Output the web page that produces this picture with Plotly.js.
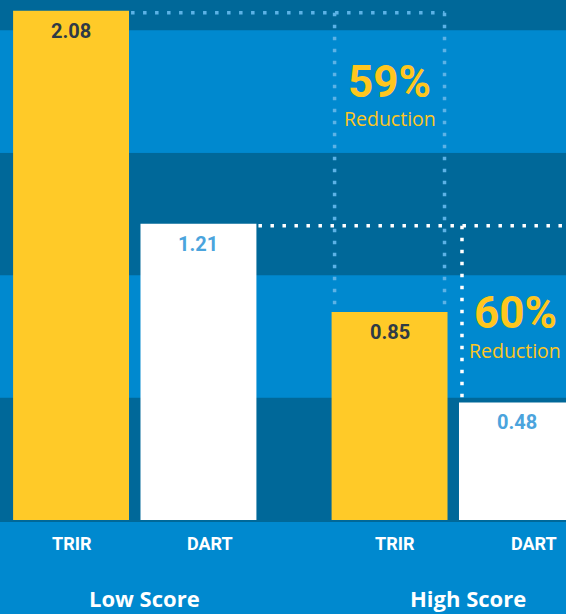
<!DOCTYPE html>
<html>
<head>
<meta charset="utf-8">
<script src="https://cdn.plot.ly/plotly-3.0.1.min.js"></script>
<style>
html,body{margin:0;padding:0;background:#0089cf;}
#chart{width:566px;height:614px;}
</style>
</head>
<body>
<div id="chart"></div>
<script>
// ---- data ----
const groups = ["Low Score", "High Score"];
const metrics = ["TRIR", "DART"];
const trirValues = [2.08, 0.85];
const dartValues = [1.21, 0.48];

// ---- style ----
const DARK = "#006899";
const LIGHT = "#0089cf";
const YELLOW = "#ffca28";
const WHITE = "#ffffff";
const DOT_BLUE = "#5cb2e6";
const bargap = 0.2, bargroupgap = 0.09;
const xRange = [-0.4231, 1.354];
const yRange = [0, 2.124];
const plotH = 520, pxPerUnitX = 566 / (xRange[1] - xRange[0]);
const pxPerUnitY = plotH / (yRange[1] - yRange[0]);

const slot = (1 - bargap) / 2;            // width of one bar slot in category units
const offs = [-slot / 2, slot / 2];        // TRIR, DART offsets within group
const halfW = slot * (1 - bargroupgap) / 2;
const px = p => p / pxPerUnitX;            // pixels -> x units
const py = p => p / pxPerUnitY;            // pixels -> y units

const traces = [
  {type: "bar", name: metrics[0], x: groups, y: trirValues,
   marker: {color: YELLOW, line: {width: 0}}, hoverinfo: "skip"},
  {type: "bar", name: metrics[1], x: groups, y: dartValues,
   marker: {color: WHITE, line: {width: 0}}, hoverinfo: "skip"}
];

// background bands every 0.5
const shapes = [];
for (let k = 0; k * 0.5 < yRange[1]; k++) {
  shapes.push({type: "rect", layer: "below", xref: "paper", yref: "y",
    x0: 0, x1: 1, y0: k * 0.5, y1: Math.min((k + 1) * 0.5, yRange[1] + 0.1),
    fillcolor: k % 2 === 0 ? DARK : LIGHT, line: {width: 0}});
}

const dotLine = (color) => ({color: color, width: 3.5, dash: "3.5px,8.5px"});
const inset = px(3);
const drop = py(2);
// TRIR bracket (light blue)
const t2Left = 1 + offs[0] - halfW + inset;
const t2Right = 1 + offs[0] + halfW - inset;
shapes.push({type: "line", layer: "below", xref: "x", yref: "y",
  x0: 0 + offs[0], x1: t2Right, y0: trirValues[0] - drop, y1: trirValues[0] - drop, line: dotLine(DOT_BLUE)});
shapes.push({type: "line", layer: "below", xref: "x", yref: "y",
  x0: t2Left, x1: t2Left, y0: trirValues[0] - drop, y1: trirValues[1], line: dotLine(DOT_BLUE)});
shapes.push({type: "line", layer: "below", xref: "x", yref: "y",
  x0: t2Right, x1: t2Right, y0: trirValues[0] - drop, y1: trirValues[1], line: dotLine(DOT_BLUE)});
// DART bracket (white)
const d2Left = 1 + offs[1] - halfW + inset;
shapes.push({type: "line", layer: "below", xref: "x", yref: "y",
  x0: 0 + offs[1], x1: xRange[1], y0: dartValues[0] - drop, y1: dartValues[0] - drop, line: dotLine(WHITE)});
shapes.push({type: "line", layer: "below", xref: "x", yref: "y",
  x0: d2Left, x1: d2Left, y0: dartValues[0] - drop, y1: dartValues[1], line: dotLine(WHITE)});

const annotations = [];
const series = [trirValues, dartValues];
const labelColors = ["#2f3a46", "#4ba4dd"];
// value labels
series.forEach((vals, i) => {
  vals.forEach((v, j) => {
    annotations.push({xref: "x", yref: "y", x: j + offs[i], y: v, yshift: -20,
      text: v.toFixed(2), showarrow: false, yanchor: "middle", xanchor: "center",
      font: {family: "Roboto, sans-serif", size: 20, color: labelColors[i], weight: 700}});
  });
});
// metric tick labels
const tickShift = [[0.5, 5.5], [11.5, 17.5]];
metrics.forEach((m, i) => {
  groups.forEach((g, j) => {
    annotations.push({xref: "x", yref: "paper", x: j + offs[i], y: 0, yshift: -23,
      xshift: tickShift[i][j], text: m, showarrow: false, yanchor: "middle", xanchor: "center",
      font: {family: "Roboto, sans-serif", size: 18, color: WHITE, weight: 700}});
  });
});
// group labels
const groupShift = [10, 15];
groups.forEach((g, j) => {
  annotations.push({xref: "x", yref: "paper", x: j, y: 0, yshift: -78, xshift: groupShift[j],
    text: g, showarrow: false, yanchor: "middle", xanchor: "center", borderpad: 0,
    font: {family: "Open Sans, sans-serif", size: 22, color: WHITE, weight: 700}});
});
// reduction callouts
const pctYellow = "#ffc61e";
const red = [1 - trirValues[1] / trirValues[0], 1 - dartValues[1] / dartValues[0]];
const calloutY = [[1.789, 1.639], [0.846, 0.692]];
const calloutShift = [0, -1.5];
red.forEach((r, i) => {
  annotations.push({xref: "x", yref: "y", x: 1 + offs[i], y: calloutY[i][0], xshift: calloutShift[i],
    text: Math.round(r * 100) + "%", showarrow: false, yanchor: "middle", xanchor: "center",
    font: {family: "Roboto, sans-serif", size: 44, color: pctYellow, weight: 700}});
  annotations.push({xref: "x", yref: "y", x: 1 + offs[i], y: calloutY[i][1], xshift: calloutShift[i],
    text: "Reduction", showarrow: false, yanchor: "middle", xanchor: "center",
    font: {family: "Open Sans, sans-serif", size: 19.5, color: pctYellow}});
});

const layout = {
  width: 566, height: 614,
  margin: {l: 0, r: 0, t: 0, b: 94, pad: 0},
  paper_bgcolor: LIGHT, plot_bgcolor: LIGHT,
  barmode: "group", bargap: bargap, bargroupgap: bargroupgap,
  showlegend: false,
  xaxis: {type: "category", range: xRange, showticklabels: false, showgrid: false,
    zeroline: false, showline: true, linecolor: DARK, linewidth: 2, ticks: "", fixedrange: true},
  yaxis: {range: yRange, showticklabels: false, showgrid: false, zeroline: false,
    showline: false, ticks: "", fixedrange: true},
  shapes: shapes,
  annotations: annotations
};

Plotly.newPlot("chart", traces, layout, {displayModeBar: false, staticPlot: true});
</script>
</body>
</html>
